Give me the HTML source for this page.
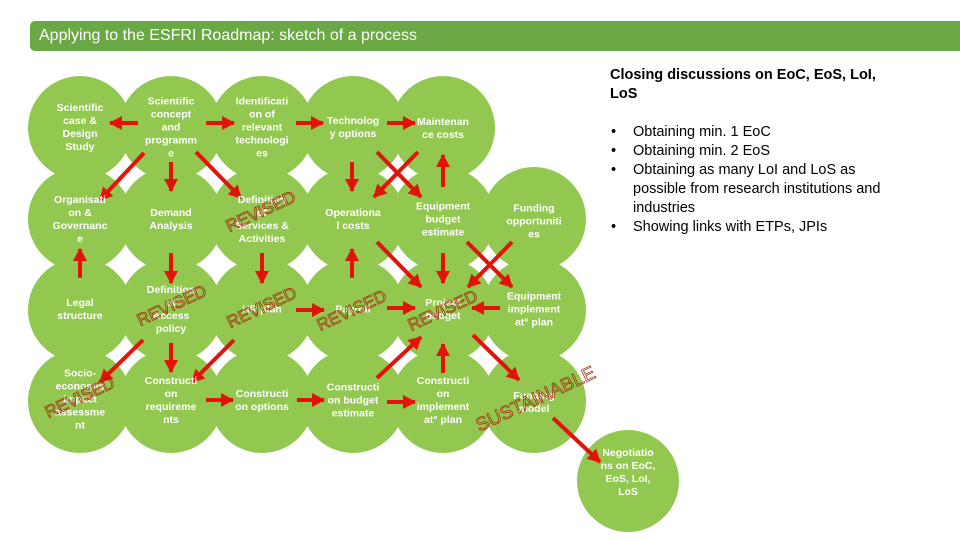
<!DOCTYPE html>
<html><head><meta charset="utf-8"><style>
body{margin:0;width:960px;height:540px;overflow:hidden;background:#fff;font-family:"Liberation Sans",Arial,sans-serif;position:relative}
.bar{position:absolute;left:30px;top:21px;width:930px;height:30px;background:#6aa843;border-radius:5px 0 0 5px;color:#fff;font-size:16px;line-height:30px;padding-left:9px;box-sizing:border-box}
.t{position:absolute;width:80px;margin-left:-40px;text-align:center;color:#fff;font-size:10.5px;font-weight:bold;line-height:13px;transform:translateY(-50%)}
.st{position:absolute;font-size:17px;transform:translate(-50%,-50%) rotate(-25deg);-webkit-text-stroke:0.7px #a8200c;color:transparent;white-space:nowrap}
.h{position:absolute;left:610px;top:66px;width:320px;font-size:14.5px;font-weight:bold;line-height:19px;color:#000}
ul{position:absolute;left:611px;top:123px;margin:0;padding:0;list-style:none;font-size:14.5px;line-height:19px;color:#000;width:300px}
li{position:relative;padding-left:22px}
li:before{content:"•";position:absolute;left:0}
</style></head><body>
<div class="bar">Applying to the ESFRI Roadmap: sketch of a process</div>
<svg width="960" height="540" style="position:absolute;left:0;top:0">
<defs><marker id="a" markerUnits="userSpaceOnUse" markerWidth="14" markerHeight="14" refX="12" refY="7" orient="auto"><path d="M0,0 L13,7 L0,14 Z" fill="#e3120b"/></marker></defs>
<g fill="#92c850">
<circle cx="80" cy="128" r="52"/><circle cx="171" cy="128" r="52"/><circle cx="262" cy="128" r="52"/><circle cx="353" cy="128" r="52"/><circle cx="443" cy="128" r="52"/>
<circle cx="80" cy="219" r="52"/><circle cx="171" cy="219" r="52"/><circle cx="262" cy="219" r="52"/><circle cx="353" cy="219" r="52"/><circle cx="443" cy="219" r="52"/><circle cx="534" cy="219" r="52"/>
<circle cx="80" cy="310" r="52"/><circle cx="171" cy="310" r="52"/><circle cx="262" cy="310" r="52"/><circle cx="353" cy="310" r="52"/><circle cx="443" cy="310" r="52"/><circle cx="534" cy="310" r="52"/>
<circle cx="80" cy="401" r="52"/><circle cx="171" cy="401" r="52"/><circle cx="262" cy="401" r="52"/><circle cx="353" cy="401" r="52"/><circle cx="443" cy="401" r="52"/><circle cx="534" cy="401" r="52"/>
<circle cx="628" cy="481" r="51"/>
</g>
<g stroke="#e3120b" stroke-width="4" marker-end="url(#a)" fill="none">
<line x1="138" y1="123" x2="110" y2="123"/>
<line x1="206" y1="123" x2="234" y2="123"/>
<line x1="296" y1="123" x2="323" y2="123"/>
<line x1="387" y1="123" x2="415" y2="123"/>
<line x1="144" y1="153" x2="100" y2="200"/>
<line x1="171" y1="162" x2="171" y2="191"/>
<line x1="196" y1="152" x2="241" y2="198"/>
<line x1="80" y1="278" x2="80" y2="249"/>
<line x1="171" y1="253" x2="171" y2="283"/>
<line x1="262" y1="253" x2="262" y2="283"/>
<line x1="296" y1="310" x2="324" y2="310"/>
<line x1="352" y1="162" x2="352" y2="191"/>
<line x1="377" y1="152" x2="421" y2="197"/>
<line x1="418" y1="152" x2="374" y2="197"/>
<line x1="443" y1="187" x2="443" y2="155"/>
<line x1="352" y1="278" x2="352" y2="249"/>
<line x1="377" y1="242" x2="421" y2="287"/>
<line x1="443" y1="253" x2="443" y2="283"/>
<line x1="467" y1="242" x2="512" y2="287"/>
<line x1="512" y1="242" x2="468" y2="287"/>
<line x1="387" y1="308" x2="415" y2="308"/>
<line x1="500" y1="308" x2="472" y2="308"/>
<line x1="143" y1="340" x2="100" y2="382"/>
<line x1="171" y1="343" x2="171" y2="372"/>
<line x1="234" y1="340" x2="192" y2="382"/>
<line x1="206" y1="400" x2="233" y2="400"/>
<line x1="297" y1="400" x2="324" y2="400"/>
<line x1="377" y1="378" x2="421" y2="337"/>
<line x1="387" y1="402" x2="415" y2="402"/>
<line x1="443" y1="373" x2="443" y2="344"/>
<line x1="473" y1="335" x2="519" y2="380"/>
<line x1="553" y1="418" x2="600" y2="462"/>
</g>
</svg>
<div class="t" style="left:80px;top:128px">Scientific<br>case &amp;<br>Design<br>Study</div>
<div class="t" style="left:171px;top:128px">Scientific<br>concept<br>and<br>programm<br>e</div>
<div class="t" style="left:262px;top:128px">Identificati<br>on of<br>relevant<br>technologi<br>es</div>
<div class="t" style="left:353px;top:128px">Technolog<br>y options</div>
<div class="t" style="left:443px;top:129px">Maintenan<br>ce costs</div>
<div class="t" style="left:80px;top:220px">Organisati<br>on &amp;<br>Governanc<br>e</div>
<div class="t" style="left:171px;top:220px">Demand<br>Analysis</div>
<div class="t" style="left:262px;top:220px">Definition<br>of<br>Services &amp;<br>Activities</div>
<div class="t" style="left:353px;top:220px">Operationa<br>l costs</div>
<div class="t" style="left:443px;top:220px">Equipment<br>budget<br>estimate</div>
<div class="t" style="left:534px;top:222px">Funding<br>opportuniti<br>es</div>
<div class="t" style="left:80px;top:310px">Legal<br>structure</div>
<div class="t" style="left:171px;top:310px">Definition<br>of<br>Access<br>policy</div>
<div class="t" style="left:262px;top:310px">HR plan</div>
<div class="t" style="left:353px;top:310px">Payroll</div>
<div class="t" style="left:443px;top:310px">Project<br>budget</div>
<div class="t" style="left:534px;top:310px">Equipment<br>implement<br>at° plan</div>
<div class="t" style="left:80px;top:400px">Socio-<br>economic<br>impact<br>assessme<br>nt</div>
<div class="t" style="left:171px;top:401px">Constructi<br>on<br>requireme<br>nts</div>
<div class="t" style="left:262px;top:401px">Constructi<br>on options</div>
<div class="t" style="left:353px;top:401px">Constructi<br>on budget<br>estimate</div>
<div class="t" style="left:443px;top:401px">Constructi<br>on<br>implement<br>at° plan</div>
<div class="t" style="left:534px;top:403px">Funding<br>model</div>
<div class="t" style="left:628px;top:473px">Negotiatio<br>ns on EoC,<br>EoS, LoI,<br>LoS</div>
<div class="st" style="left:261px;top:212px">REVISED</div>
<div class="st" style="left:172px;top:306px">REVISED</div>
<div class="st" style="left:262px;top:308px">REVISED</div>
<div class="st" style="left:352px;top:311px">REVISED</div>
<div class="st" style="left:443px;top:311px">REVISED</div>
<div class="st" style="left:80px;top:398px">REVISED</div>
<div class="st" style="left:536px;top:400px;font-size:19px">SUSTAINABLE</div>
<div class="h">Closing discussions on EoC, EoS, LoI,<br>LoS</div>
<ul>
<li>Obtaining min. 1 EoC</li>
<li>Obtaining min. 2 EoS</li>
<li>Obtaining as many LoI and LoS as possible from research institutions and industries</li>
<li>Showing links with ETPs, JPIs</li>
</ul>
</body></html>
